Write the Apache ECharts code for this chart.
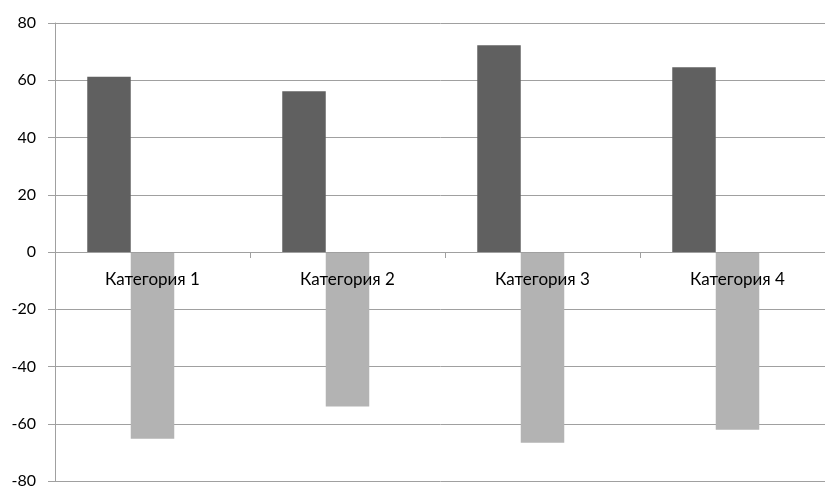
<!DOCTYPE html>
<html><head><meta charset="utf-8">
<script src="https://cdn.jsdelivr.net/npm/echarts@6/dist/echarts.min.js"></script>
<style>html,body{margin:0;padding:0;background:#fff}#c{width:825px;height:486px}</style>
</head><body><div id="c"></div>
<script>
const categories = ['Категория 1', 'Категория 2', 'Категория 3', 'Категория 4'];
const series1 = [61.2, 56.2, 72.2, 64.5];
const series2 = [-65.2, -54.0, -66.6, -62.1];
const series3 = [null, null, null, null];
const yTicks = { min: -80, max: 80, interval: 20 };

const chart = echarts.init(document.getElementById('c'));
const lineColor = '#a0a0a0';
chart.setOption({
  animation: false,
  backgroundColor: '#fff',
  grid: { left: 55, top: 23, width: 780, height: 458, containLabel: false, outerBoundsMode: 'none' },
  xAxis: {
    type: 'category', data: categories, z: 10,
    axisLine: { onZero: true, lineStyle: { color: lineColor, width: 1 } },
    axisTick: { show: true, length: 6, alignWithLabel: false, lineStyle: { color: lineColor } },
    axisLabel: { color: '#000', fontFamily: 'Lato', fontSize: 17, margin: -210 },
    splitLine: { show: false }
  },
  yAxis: {
    type: 'value', min: yTicks.min, max: yTicks.max, interval: yTicks.interval,
    axisLine: { show: true, lineStyle: { color: lineColor, width: 1 } },
    axisTick: { show: true, length: 7, lineStyle: { color: lineColor } },
    axisLabel: { color: '#000', fontFamily: 'Lato', fontSize: 16, margin: 19 },
    splitLine: { show: true, lineStyle: { color: lineColor, width: 1 } }
  },
  series: [
    { type: 'bar', data: series1, barWidth: 43.5, barGap: '0%', itemStyle: { color: '#606060' } },
    { type: 'bar', data: series2, barWidth: 43.5, barGap: '0%', itemStyle: { color: '#b3b3b3' } },
    { type: 'bar', data: series3, barWidth: 43.5, barGap: '0%', itemStyle: { color: '#909090' } }
  ]
});
</script></body></html>
